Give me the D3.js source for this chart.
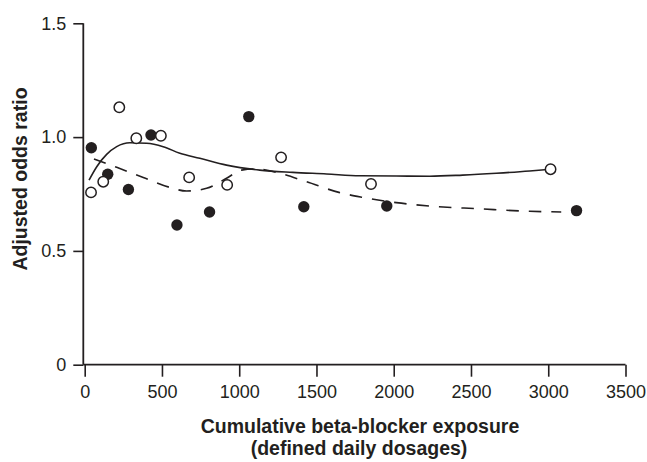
<!DOCTYPE html>
<html><head><meta charset="utf-8">
<script src="https://cdn.jsdelivr.net/npm/d3@7"></script>
<style>
html,body{margin:0;padding:0;background:#fff;}
svg{display:block;}
text{font-family:"Liberation Sans",Arial,Helvetica,sans-serif;fill:#231f20;}
</style></head>
<body>
<svg id="chart" width="647" height="462"></svg>
<script>
// Data
const filledX = [43, 149, 283, 429, 597, 808, 1062, 1418, 1955, 3183];
const filledY = [0.953, 0.837, 0.770, 1.009, 0.614, 0.671, 1.090, 0.694, 0.697, 0.677];
const openX = [41, 120, 224, 334, 493, 676, 922, 1271, 1853, 3015];
const openY = [0.757, 0.804, 1.131, 0.995, 1.006, 0.823, 0.790, 0.911, 0.794, 0.859];
const solidX = [28, 78, 142, 207, 293, 401, 508, 616, 745, 918, 1133, 1347, 1565, 1780, 2017, 2233, 2446, 2664, 2880, 3015];
const solidY = [0.811, 0.870, 0.924, 0.958, 0.975, 0.973, 0.958, 0.929, 0.907, 0.877, 0.855, 0.845, 0.838, 0.830, 0.829, 0.828, 0.833, 0.841, 0.851, 0.859];
const dashX = [60, 207, 379, 551, 659, 789, 918, 1015, 1112, 1263, 1435, 1651, 1801, 2017, 2233, 2556, 2880, 3084];
const dashY = [0.904, 0.867, 0.823, 0.779, 0.763, 0.775, 0.819, 0.855, 0.860, 0.841, 0.804, 0.756, 0.735, 0.712, 0.697, 0.685, 0.674, 0.671];
const xTicks = [0, 500, 1000, 1500, 2000, 2500, 3000, 3500];
const yTicks = [0, 0.5, 1.0, 1.5];
const yTickLabels = ["0", "0.5", "1.0", "1.5"];
const xTitle = ["Cumulative beta-blocker exposure", "(defined daily dosages)"];
const yTitle = "Adjusted odds ratio";

const ink = "#231f20";
const svg = d3.select("#chart");
const x = d3.scaleLinear().domain([0, 3500]).range([84.7, 625.5]);
const y = d3.scaleLinear().domain([0, 1.5]).range([364.7, 23.3]);
const axisX0 = 83.3;

// axes
const xa = svg.append("g").attr("transform", `translate(0,${y(0)})`)
  .call(d3.axisBottom(x).tickValues(xTicks).tickFormat(d3.format("d")).tickSize(12).tickSizeOuter(0).tickPadding(9));
xa.select(".domain").remove();
xa.append("line").attr("x1", axisX0).attr("x2", x(3500)).attr("y1", 0).attr("y2", 0)
  .attr("stroke", ink).attr("stroke-width", 1.8);
xa.selectAll(".tick line").attr("stroke", ink).attr("stroke-width", 1.6);
xa.selectAll(".tick text").style("font-size", "18px").attr("fill", ink);

const ya = svg.append("g").attr("transform", `translate(${axisX0},0)`)
  .call(d3.axisLeft(y).tickValues(yTicks).tickFormat((d, i) => yTickLabels[i]).tickSize(10).tickSizeOuter(0).tickPadding(7));
ya.select(".domain").remove();
ya.append("line").attr("x1", 0).attr("x2", 0).attr("y1", y(1.5)).attr("y2", y(0))
  .attr("stroke", ink).attr("stroke-width", 1.8);
ya.selectAll(".tick line").attr("stroke", ink).attr("stroke-width", 1.6);
ya.selectAll(".tick text").style("font-size", "18px").attr("fill", ink);

// titles
svg.append("text").attr("transform", "translate(27,179) rotate(-90)")
  .attr("text-anchor", "middle").style("font-size", "19.5px").style("font-weight", "bold").text(yTitle);
svg.append("text").attr("x", 360).attr("y", 433).attr("text-anchor", "middle")
  .style("font-size", "19.5px").style("font-weight", "bold").text(xTitle[0]);
svg.append("text").attr("x", 359).attr("y", 455).attr("text-anchor", "middle")
  .style("font-size", "19.5px").style("font-weight", "bold").text(xTitle[1]);

// curves
const line = d3.line().x(d => x(d[0])).y(d => y(d[1])).curve(d3.curveMonotoneX);
svg.append("path").datum(solidX.map((v, i) => [v, solidY[i]])).attr("d", line)
  .attr("fill", "none").attr("stroke", ink).attr("stroke-width", 1.6);
svg.append("path").datum(dashX.map((v, i) => [v, dashY[i]])).attr("d", line)
  .attr("fill", "none").attr("stroke", ink).attr("stroke-width", 1.6).attr("stroke-dasharray", "12.5,10");

// points
svg.append("g").selectAll("circle").data(filledX.map((v, i) => [v, filledY[i]])).join("circle")
  .attr("cx", d => x(d[0])).attr("cy", d => y(d[1])).attr("r", 5.7).attr("fill", ink);
svg.append("g").selectAll("circle").data(openX.map((v, i) => [v, openY[i]])).join("circle")
  .attr("cx", d => x(d[0])).attr("cy", d => y(d[1])).attr("r", 5.2)
  .attr("fill", "#fff").attr("stroke", ink).attr("stroke-width", 1.5);
</script>
</body></html>
